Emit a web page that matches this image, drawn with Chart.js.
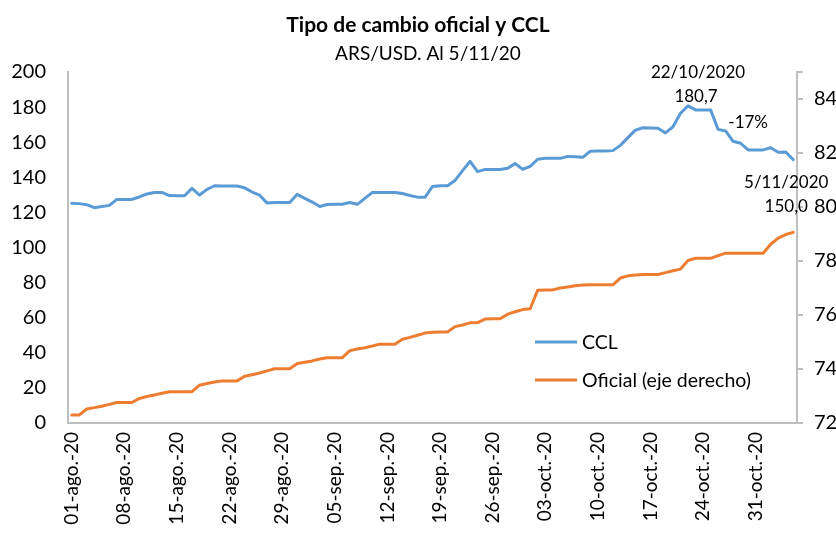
<!DOCTYPE html>
<html>
<head>
<meta charset="utf-8">
<script src="https://cdn.jsdelivr.net/npm/chart.js@4.4.1/dist/chart.umd.min.js"></script>
<style>
  html, body { margin: 0; padding: 0; background: #ffffff; }
  #wrap { width: 836px; height: 540px; }
</style>
</head>
<body>
<div id="wrap"><canvas id="c" width="836" height="540"></canvas></div>
<script>
const chartTitle = 'Tipo de cambio oficial y CCL';
const chartSubtitle = 'ARS/USD. Al 5/11/20';

const categories = [
  '01-ago.-20','02-ago.-20','03-ago.-20','04-ago.-20','05-ago.-20','06-ago.-20','07-ago.-20','08-ago.-20','09-ago.-20','10-ago.-20',
  '11-ago.-20','12-ago.-20','13-ago.-20','14-ago.-20','15-ago.-20','16-ago.-20','17-ago.-20','18-ago.-20','19-ago.-20','20-ago.-20',
  '21-ago.-20','22-ago.-20','23-ago.-20','24-ago.-20','25-ago.-20','26-ago.-20','27-ago.-20','28-ago.-20','29-ago.-20','30-ago.-20','31-ago.-20',
  '01-sep.-20','02-sep.-20','03-sep.-20','04-sep.-20','05-sep.-20','06-sep.-20','07-sep.-20','08-sep.-20','09-sep.-20','10-sep.-20',
  '11-sep.-20','12-sep.-20','13-sep.-20','14-sep.-20','15-sep.-20','16-sep.-20','17-sep.-20','18-sep.-20','19-sep.-20','20-sep.-20',
  '21-sep.-20','22-sep.-20','23-sep.-20','24-sep.-20','25-sep.-20','26-sep.-20','27-sep.-20','28-sep.-20','29-sep.-20','30-sep.-20',
  '01-oct.-20','02-oct.-20','03-oct.-20','04-oct.-20','05-oct.-20','06-oct.-20','07-oct.-20','08-oct.-20','09-oct.-20','10-oct.-20',
  '11-oct.-20','12-oct.-20','13-oct.-20','14-oct.-20','15-oct.-20','16-oct.-20','17-oct.-20','18-oct.-20','19-oct.-20','20-oct.-20',
  '21-oct.-20','22-oct.-20','23-oct.-20','24-oct.-20','25-oct.-20','26-oct.-20','27-oct.-20','28-oct.-20','29-oct.-20','30-oct.-20','31-oct.-20',
  '01-nov.-20','02-nov.-20','03-nov.-20','04-nov.-20','05-nov.-20'
];

const xTickLabels = ['01-ago.-20','08-ago.-20','15-ago.-20','22-ago.-20','29-ago.-20','05-sep.-20','12-sep.-20',
  '19-sep.-20','26-sep.-20','03-oct.-20','10-oct.-20','17-oct.-20','24-oct.-20','31-oct.-20'];

const ccl = [
  125.2,125.0,124.4,122.7,123.3,124.0,127.4,127.4,127.4,128.8,
  130.5,131.3,131.4,129.6,129.5,129.5,133.7,129.9,133.1,135.2,
  135.0,135.0,135.0,134.0,131.6,129.8,125.3,125.6,125.6,125.6,130.3,
  128.0,125.9,123.4,124.5,124.6,124.6,125.6,124.6,128.0,131.4,
  131.4,131.4,131.4,130.8,129.6,128.7,128.6,134.8,135.2,135.2,
  138.2,143.8,149.1,143.2,144.5,144.5,144.5,145.1,147.8,144.6,
  146.2,150.3,150.8,150.8,150.8,151.9,151.7,151.4,154.9,155.0,
  155.0,155.2,158.2,162.6,166.9,168.2,168.1,168.0,165.3,168.8,
  176.5,180.7,178.4,178.4,178.4,167.3,166.4,160.5,159.4,155.6,155.6,
  155.6,156.8,154.3,154.4,150.0
];

const oficial = [
  72.30,72.30,72.52,72.57,72.62,72.69,72.76,72.76,72.76,72.91,
  72.98,73.04,73.10,73.16,73.16,73.16,73.16,73.40,73.46,73.52,
  73.56,73.56,73.56,73.73,73.79,73.85,73.93,74.01,74.01,74.01,74.20,
  74.25,74.30,74.37,74.42,74.42,74.42,74.68,74.74,74.79,74.85,
  74.92,74.92,74.92,75.10,75.17,75.25,75.33,75.36,75.37,75.37,
  75.57,75.63,75.71,75.72,75.85,75.86,75.86,76.03,76.12,76.20,
  76.23,76.92,76.93,76.93,77.00,77.04,77.08,77.11,77.12,77.12,
  77.12,77.12,77.37,77.45,77.48,77.50,77.50,77.50,77.57,77.64,
  77.70,78.02,78.10,78.10,78.10,78.20,78.29,78.29,78.29,78.29,78.29,
  78.29,78.62,78.85,78.98,79.06
];

const seriesNames = ['CCL', 'Oficial (eje derecho)'];
const peakDate = '22/10/2020';
const lastDate = '5/11/2020';
const changeLabel = '-17%';

const BLUE = '#5B9BD5';
const ORANGE = '#ED7D31';
const AXIS = '#BFBFBF';
const FONT = 'Lato, "Open Sans", sans-serif';
const fmt = v => v.toFixed(1).replace('.', ',');

const peakIdx = categories.indexOf('22-oct.-20');
const lastIdx = ccl.length - 1;

const overlay = {
  id: 'overlay',
  afterDraw(chart) {
    const ctx = chart.ctx;
    const xs = chart.scales.x, yl = chart.scales.y;
    ctx.save();
    ctx.fillStyle = '#000';
    ctx.textAlign = 'center';
    ctx.textBaseline = 'middle';
    ctx.font = 'bold 21px ' + FONT;
    ctx.fillText(chartTitle, 418, 25);
    ctx.font = '19px ' + FONT;
    ctx.fillText(chartSubtitle, 428, 54);

    // annotations anchored to data points
    ctx.font = '17px ' + FONT;
    const px = xs.getPixelForValue(peakIdx), py = yl.getPixelForValue(ccl[peakIdx]);
    ctx.fillText(peakDate, px + 10, py - 33);
    ctx.fillText(fmt(ccl[peakIdx]), px + 8, py - 9);
    const mx = xs.getPixelForValue(90);
    ctx.fillText(changeLabel, mx, py + 17);
    const lx = xs.getPixelForValue(lastIdx), ly = yl.getPixelForValue(ccl[lastIdx]);
    ctx.fillText(lastDate, lx - 7, ly + 23);
    ctx.fillText(fmt(ccl[lastIdx]), lx - 7, ly + 47);

    // legend
    const colors = [BLUE, ORANGE];
    const ys = [342, 380];
    ctx.font = '19.5px ' + FONT;
    ctx.textAlign = 'left';
    for (let i = 0; i < 2; i++) {
      ctx.strokeStyle = colors[i];
      ctx.lineWidth = 3;
      ctx.beginPath();
      ctx.moveTo(535, ys[i]);
      ctx.lineTo(577, ys[i]);
      ctx.stroke();
      ctx.fillStyle = '#000';
      ctx.fillText(seriesNames[i], 582, ys[i] + 1);
    }
    ctx.restore();
  }
};

new Chart(document.getElementById('c'), {
  type: 'line',
  data: {
    labels: categories,
    datasets: [
      { label: seriesNames[0], data: ccl, yAxisID: 'y', borderColor: BLUE, backgroundColor: BLUE,
        borderWidth: 3, pointRadius: 0, tension: 0, borderJoinStyle: 'round', borderCapStyle: 'round' },
      { label: seriesNames[1], data: oficial, yAxisID: 'y2', borderColor: ORANGE, backgroundColor: ORANGE,
        borderWidth: 3, pointRadius: 0, tension: 0, borderJoinStyle: 'round', borderCapStyle: 'round' }
    ]
  },
  options: {
    responsive: false,
    animation: false,
    devicePixelRatio: 1,
    layout: { padding: { top: 72, left: 0, right: 0, bottom: 0 } },
    plugins: { legend: { display: false }, title: { display: false }, tooltip: { enabled: false } },
    scales: {
      x: {
        type: 'category',
        offset: true,
        grid: { display: false, drawTicks: false },
        border: { display: true, color: AXIS, width: 2 },
        ticks: {
          autoSkip: false, maxRotation: 90, minRotation: 90, padding: 9,
          color: '#000', font: { family: FONT, size: 19 },
          callback: function (v) { const l = categories[v]; return xTickLabels.includes(l) ? l : ''; }
        },
        afterFit: s => { s.height = 117; }
      },
      y: {
        position: 'left', min: 0, max: 200,
        grid: { display: false, drawTicks: false },
        border: { display: true, color: AXIS, width: 2 },
        ticks: { stepSize: 20, padding: 22, color: '#000', font: { family: FONT, size: 20 } },
        afterFit: s => { s.width = 68; }
      },
      y2: {
        position: 'right', min: 72, max: 85,
        grid: { display: true, drawOnChartArea: false, drawTicks: true, tickLength: 6, color: AXIS, lineWidth: 2 },
        border: { display: true, color: AXIS, width: 2 },
        ticks: { stepSize: 2, padding: 11, color: '#000', font: { family: FONT, size: 20 },
          callback: v => (v % 2 === 0 ? v : '') },
        afterFit: s => { s.width = 39; }
      }
    }
  },
  plugins: [overlay]
});
</script>
</body>
</html>
